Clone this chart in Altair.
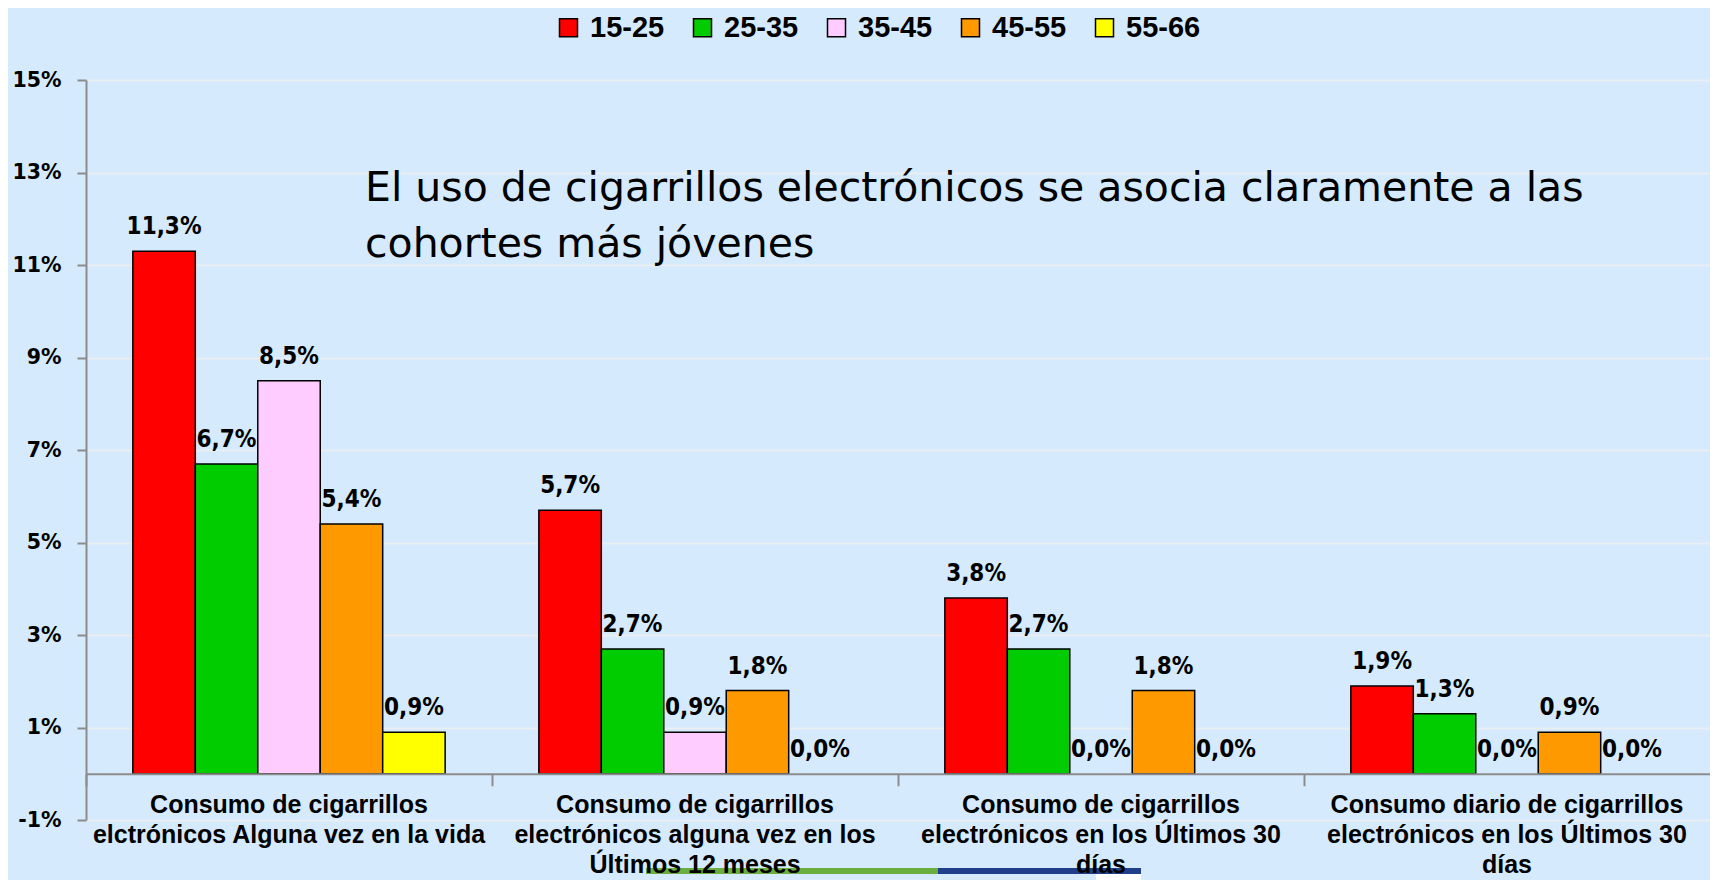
import altair as alt
import pandas as pd

# ---------------- data ----------------
categories = [
    "Consumo de cigarrillos|elctrónicos Alguna vez en la vida",
    "Consumo de cigarrillos|electrónicos alguna vez en los|Últimos 12 meses",
    "Consumo de cigarrillos|electrónicos en los Últimos 30|días",
    "Consumo diario de cigarrillos|electrónicos en los Últimos 30|días",
]
age_groups = ["15-25", "25-35", "35-45", "45-55", "55-66"]
colors = ["#FF0000", "#00CC00", "#FFCCFF", "#FF9900", "#FFFF00"]

v_15_25 = [11.3, 5.7, 3.8, 1.9]
v_25_35 = [6.7, 2.7, 2.7, 1.3]
v_35_45 = [8.5, 0.9, 0.0, 0.0]
v_45_55 = [5.4, 1.8, 1.8, 0.9]
v_55_66 = [0.9, 0.0, 0.0, 0.0]

y_ticks = [-1, 1, 3, 5, 7, 9, 11, 13, 15]
annotation = ["El uso de cigarrillos electrónicos se asocia claramente a las|cohortes más jóvenes"]

series = [v_15_25, v_25_35, v_35_45, v_45_55, v_55_66]
rows = []
for g, vals in zip(age_groups, series):
    for c, v in zip(categories, vals):
        rows.append({"cat": c, "group": g, "value": v,
                     "label": f"{v:.1f}".replace(".", ",") + "%"})
df = pd.DataFrame(rows)
df_cat = pd.DataFrame({"cat": categories})
df_ann = pd.DataFrame({"t": annotation})
df_dummy = pd.DataFrame({"d": [0]})

BG = "#D5EAFC"
GRID = "#E9EEF2"
AXIS = "#8C8C8C"

x_enc = alt.X(
    "cat:N",
    sort=categories,
    scale=alt.Scale(domain=categories, paddingInner=0, paddingOuter=0),
    axis=alt.Axis(title=None, labels=False, ticks=True, tickSize=12, tickColor=AXIS,
                  tickWidth=2, domain=True, domainColor=AXIS, domainWidth=2,
                  bandPosition=0, offset=-46.25, grid=False, zindex=1),
)
xo_enc = alt.XOffset("group:N", sort=age_groups,
                     scale=alt.Scale(domain=age_groups, paddingInner=0, paddingOuter=0.75))
y_enc = alt.Y(
    "value:Q",
    scale=alt.Scale(domain=[-1, 15], nice=False),
    axis=alt.Axis(values=y_ticks, labelExpr="datum.value + '%'", title=None, grid=True,
                  gridColor=GRID, gridWidth=2, domainColor=AXIS, domainWidth=2,
                  tickColor=AXIS, tickWidth=2, tickSize=9, labelFont="DejaVu Sans",
                  labelFontWeight="bold", labelFontSize=20.5, labelPadding=16,
                  labelColor="black"),
)

# decoration at the bottom (slide ornament)
white_box = alt.Chart(df_dummy).mark_rect(color="white").encode(
    x=alt.value(1010), x2=alt.value(1055), y=alt.value(792), y2=alt.value(808))
green_line = alt.Chart(df_dummy).mark_rule(color="#6AAE3E", strokeWidth=6).encode(
    x=alt.value(560), x2=alt.value(852), y=alt.value(791))
blue_line = alt.Chart(df_dummy).mark_rule(color="#203F8A", strokeWidth=6).encode(
    x=alt.value(852), x2=alt.value(1055), y=alt.value(791))

bars = alt.Chart(df).mark_bar(stroke="black", strokeWidth=1.5).encode(
    x=x_enc,
    xOffset=xo_enc,
    y=y_enc,
    y2=alt.datum(0),
    strokeOpacity=alt.condition("datum.value == 0", alt.value(0), alt.value(1)),
    color=alt.Color(
        "group:N",
        scale=alt.Scale(domain=age_groups, range=colors),
        legend=alt.Legend(title=None, orient="none", legendX=468, legendY=-67,
                          direction="horizontal", symbolType="square", symbolSize=324,
                          symbolStrokeColor="black", symbolStrokeWidth=1.5,
                          symbolOpacity=1, labelFont="Liberation Sans",
                          labelFontWeight="bold", labelFontSize=29, labelOffset=7,
                          columnPadding=23, padding=0, labelColor="black"),
    ),
)

value_labels = alt.Chart(df).mark_text(
    font="DejaVu Sans Condensed", fontWeight="bold", fontSize=24,
    baseline="alphabetic", dy=-17, color="black",
).encode(x=x_enc, xOffset=xo_enc, y=y_enc, text="label:N")

cat_labels = alt.Chart(df_cat).mark_text(
    font="Liberation Sans", fontWeight="bold", fontSize=25, lineBreak="|",
    lineHeight=30, baseline="alphabetic", align="center", color="black",
).encode(x=x_enc, y=alt.value(733), text="cat:N")

ann = alt.Chart(df_ann).mark_text(
    font="DejaVu Sans", fontSize=41, lineBreak="|", lineHeight=56,
    align="left", baseline="alphabetic", color="black",
).encode(x=alt.value(279), y=alt.value(121), text="t:N")

chart = alt.layer(white_box, green_line, blue_line, bars, value_labels, cat_labels, ann).properties(
    width=1624, height=740,
    padding={"left": 78, "top": 72, "right": 0, "bottom": 60},
    autosize=alt.AutoSizeParams(type="none"),
    background=BG,
).configure_view(strokeWidth=0)

chart.save("out.html", embed_options={"renderer": "svg", "actions": False})
